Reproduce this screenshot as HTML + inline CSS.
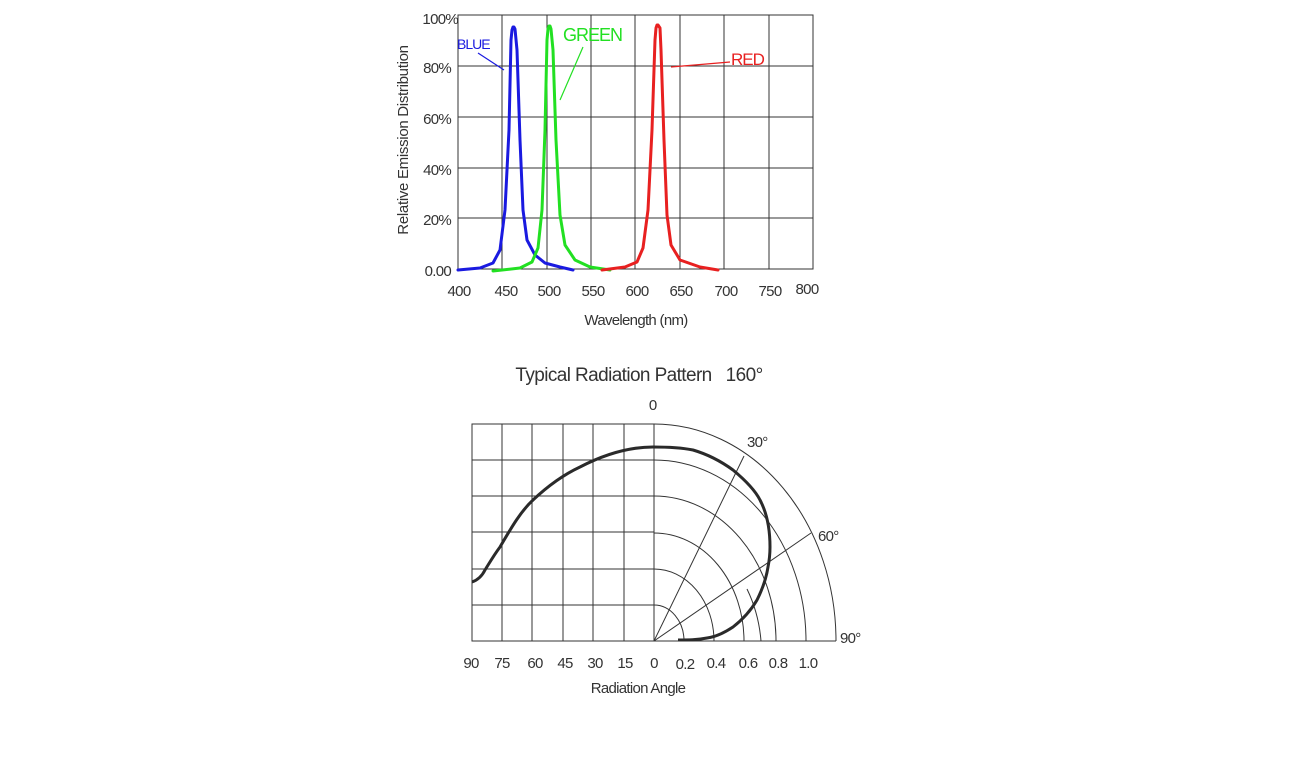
<!DOCTYPE html>
<html><head><meta charset="utf-8"><style>
html,body{margin:0;padding:0;background:#fff;}
svg{display:block;font-family:"Liberation Sans",sans-serif;}
</style></head><body>
<svg width="1298" height="775" viewBox="0 0 1298 775" xmlns="http://www.w3.org/2000/svg">
<rect width="1298" height="775" fill="#fff"/>
<g stroke="#333" stroke-width="1" fill="none">
<rect x="458" y="15" width="355" height="254"/>
<line x1="502" y1="15" x2="502" y2="269"/><line x1="547" y1="15" x2="547" y2="269"/>
<line x1="591" y1="15" x2="591" y2="269"/><line x1="635" y1="15" x2="635" y2="269"/>
<line x1="680" y1="15" x2="680" y2="269"/><line x1="724" y1="15" x2="724" y2="269"/>
<line x1="769" y1="15" x2="769" y2="269"/>
<line x1="458" y1="66" x2="813" y2="66"/><line x1="458" y1="117" x2="813" y2="117"/>
<line x1="458" y1="168" x2="813" y2="168"/><line x1="458" y1="218" x2="813" y2="218"/>
</g>
<g fill="none" stroke-width="3" stroke-linejoin="round" stroke-linecap="round">
<polyline stroke="#1a1ae0" points="458,270 480,268 493,263 500,250 505,210 509,130 511,40 512,30 513,27 514,27 515,29 517,50 520,140 523,210 527,240 535,255 545,263 560,267 573,270"/>
<polyline stroke="#22e022" points="493,271 520,268 532,262 538,248 542,210 545,130 547,40 548,29 549,26 550,26 551,29 553,50 556,140 560,215 565,245 575,260 590,267 610,270"/>
<polyline stroke="#e82020" points="602,270 625,267 637,262 643,248 648,210 652,130 655,40 656,28 657,25 658,25 660,28 661,50 664,140 667,215 671,245 680,260 700,267 718,270"/>
</g>
<g stroke-width="1.2" fill="none">
<line x1="478" y1="53" x2="504" y2="70" stroke="#1a1ae0"/>
<line x1="583" y1="47" x2="560" y2="100" stroke="#22e022"/>
<line x1="730" y1="62" x2="671" y2="67" stroke="#e82020"/>
</g>
<text x="457" y="49" font-size="14" fill="#1a1ae0" letter-spacing="-1">BLUE</text>
<text x="563" y="41" font-size="18" fill="#22e022" letter-spacing="-1">GREEN</text>
<text x="731" y="65" font-size="17" fill="#e82020" letter-spacing="-1">RED</text>
<g font-size="15" fill="#333" text-anchor="end" letter-spacing="-0.7">
<text x="458" y="24">100%</text><text x="451" y="73">80%</text><text x="451" y="124">60%</text>
<text x="451" y="175">40%</text><text x="451" y="225">20%</text><text x="451" y="276">0.00</text>
</g>
<g font-size="15" fill="#333" text-anchor="middle" letter-spacing="-0.7">
<text x="459" y="296">400</text><text x="506" y="296">450</text><text x="549" y="296">500</text>
<text x="593" y="296">550</text><text x="637" y="296">600</text><text x="681" y="296">650</text>
<text x="726" y="296">700</text><text x="770" y="296">750</text><text x="807" y="294">800</text>
</g>
<text x="636" y="325" font-size="15" fill="#333" text-anchor="middle" letter-spacing="-0.7">Wavelength (nm)</text>
<text transform="translate(408,140) rotate(-90)" font-size="15" fill="#333" text-anchor="middle" letter-spacing="-0.3">Relative Emission Distribution</text>

<text x="639" y="381" font-size="19" fill="#333" text-anchor="middle" letter-spacing="-0.6">Typical Radiation Pattern&#160;&#160; 160°</text>
<text x="653" y="410" font-size="15" fill="#333" text-anchor="middle">0</text>
<g stroke="#333" stroke-width="1" fill="none">
<rect x="472" y="424" width="182" height="217"/>
<line x1="502" y1="424" x2="502" y2="641"/><line x1="532" y1="424" x2="532" y2="641"/>
<line x1="563" y1="424" x2="563" y2="641"/><line x1="593" y1="424" x2="593" y2="641"/>
<line x1="624" y1="424" x2="624" y2="641"/>
<line x1="472" y1="460" x2="654" y2="460"/><line x1="472" y1="496" x2="654" y2="496"/>
<line x1="472" y1="532" x2="654" y2="532"/><line x1="472" y1="569" x2="654" y2="569"/>
<line x1="472" y1="605" x2="654" y2="605"/>
<line x1="654" y1="641" x2="836" y2="641"/>
<path d="M654,605 A30,36 0 0 1 684,641"/>
<path d="M654,569 A60,72 0 0 1 714,641"/>
<path d="M654,533 A90,108 0 0 1 744,641"/>
<path d="M654,496 A122,145 0 0 1 776,641"/>
<path d="M654,460 A152,181 0 0 1 806,641"/>
<path d="M654,424 A182,217 0 0 1 836,641"/>
<path d="M747,589 A107,128 0 0 1 761,641"/>
<line x1="654" y1="641" x2="744" y2="456"/>
<line x1="654" y1="641" x2="811" y2="533"/>
</g>
<path d="M472,582 C478,580 482,576 485,570 C490,562 494,555 500,547 C510,530 520,512 533,500 C550,484 565,474 580,467 C605,454 630,447 653,447 C670,447 683,448 693,450 C710,455 722,462 733,470 C745,480 755,490 760,500 C768,515 770,532 770,547 C770,556 769,562 768,567 C766,580 762,590 757,600 C750,612 742,620 733,627 C724,633 715,637 707,638 C697,640 688,640 678,640" fill="none" stroke="#2a2a2a" stroke-width="3"/>
<g font-size="15" fill="#333" letter-spacing="-0.7">
<text x="747" y="447">30°</text><text x="818" y="541">60°</text><text x="840" y="643">90°</text>
</g>
<g font-size="15" fill="#333" text-anchor="middle" letter-spacing="-0.7">
<text x="471" y="668">90</text><text x="502" y="668">75</text><text x="535" y="668">60</text>
<text x="565" y="668">45</text><text x="595" y="668">30</text><text x="625" y="668">15</text>
<text x="654" y="668">0</text><text x="685" y="669">0.2</text><text x="716" y="668">0.4</text>
<text x="748" y="668">0.6</text><text x="778" y="668">0.8</text><text x="808" y="668">1.0</text>
</g>
<text x="638" y="693" font-size="15" fill="#333" text-anchor="middle" letter-spacing="-0.7">Radiation Angle</text>
</svg>
</body></html>
